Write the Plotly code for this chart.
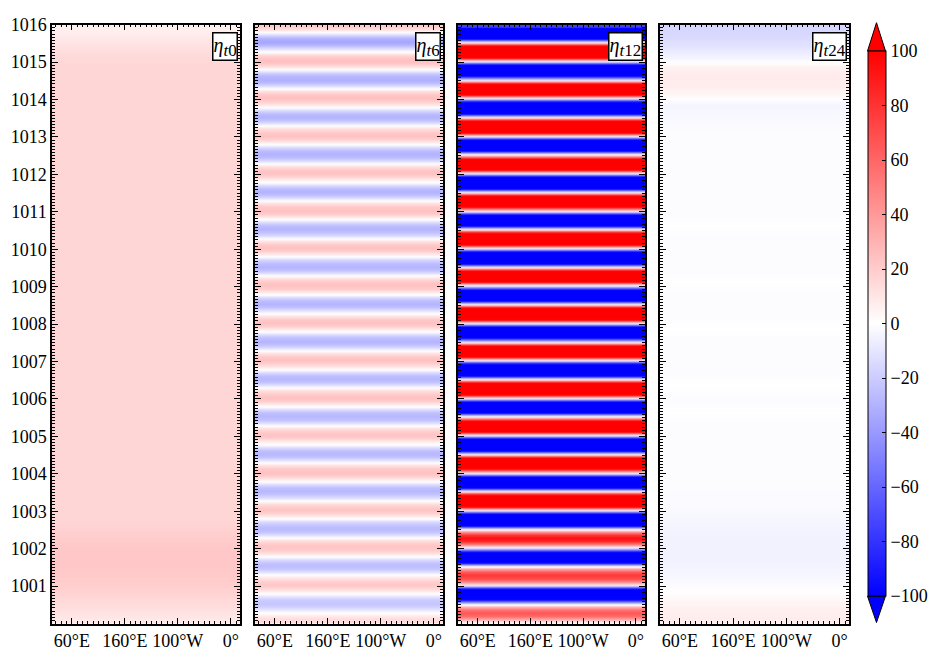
import plotly.graph_objects as go

# ---------------- data ----------------
years = list(range(1000, 1016))                       # one row per year, bottom -> top
month_centres = [(m + 0.5) / 12 for m in range(12)]   # monthly samples (panels t6, t12)
quarter_centres = [(q + 0.5) / 4 for q in range(4)]   # quarterly samples (panels t0, t24)
lon_centres = [111.25, 288.75]                        # field is zonally uniform: two columns 22.5..377.5

x_tickvals = [60, 160, 260, 360]
x_ticktext = ["60°E", "160°E", "100°W", "0°"]
y_tickvals = list(range(1001, 1017))
cbar_ticks = list(range(-100, 101, 20))
panel_subs = ["0", "6", "12", "24"]

eta_t0 = [  # quarterly
    [9, 12, 15, 18],
    [20, 21, 22, 22],
    [21, 19, 17, 16],
    [16, 16, 16, 16],
    [16, 16, 16, 16],
    [16, 16, 16, 16],
    [16, 16, 16, 16],
    [16, 16, 16, 16],
    [16, 16, 16, 16],
    [16, 16, 16, 16],
    [16, 16, 16, 16],
    [16, 16, 16, 16],
    [16, 16, 16, 16],
    [16, 16, 16, 16],
    [16, 16, 16, 16],
    [15, 12, 9, 6],
]

eta_t6 = [  # monthly
    [14, 13, 8, 0, -9, -18, -22, -20, -12, -1, 9, 17],
    [22, 19, 12, 1, -12, -22, -26, -23, -14, -1, 10, 19],
    [23, 20, 13, 1, -13, -23, -27, -24, -15, -1, 10, 19],
    [23, 20, 13, 0, -13, -24, -28, -25, -15, -1, 10, 20],
    [24, 21, 13, 1, -13, -24, -28, -25, -15, -1, 10, 20],
    [23, 20, 13, 1, -13, -24, -28, -25, -15, -1, 10, 20],
    [24, 21, 13, 1, -13, -24, -28, -25, -15, -1, 10, 20],
    [24, 21, 13, 1, -14, -24, -29, -25, -15, -1, 10, 20],
    [24, 21, 13, 1, -14, -25, -29, -26, -16, -1, 10, 20],
    [24, 21, 13, 1, -14, -25, -29, -26, -16, -1, 10, 20],
    [24, 21, 13, 1, -14, -25, -29, -26, -16, -2, 10, 20],
    [24, 21, 13, 1, -14, -25, -30, -26, -16, -2, 10, 20],
    [24, 21, 13, 1, -14, -25, -30, -26, -16, -2, 10, 20],
    [24, 21, 13, 1, -14, -25, -30, -26, -16, -2, 10, 20],
    [25, 22, 14, 1, -14, -26, -31, -28, -17, -2, 11, 21],
    [25, 22, 14, 0, -16, -29, -35, -31, -19, -3, 11, 20],
]

eta_t12 = [  # monthly
    [9, 38, 60, 66, 55, 29, -12, -92, -145, -160, -133, -70],
    [11, 46, 70, 78, 64, 34, -13, -95, -150, -165, -137, -72],
    [12, 58, 86, 94, 78, 41, -13, -97, -153, -168, -140, -74],
    [13, 97, 155, 171, 142, 75, -13, -97, -155, -171, -142, -75],
    [13, 97, 155, 171, 142, 75, -13, -97, -155, -171, -142, -75],
    [13, 98, 156, 172, 143, 75, -13, -97, -155, -171, -142, -75],
    [13, 97, 155, 171, 142, 75, -13, -97, -155, -171, -142, -75],
    [13, 98, 156, 172, 143, 75, -13, -97, -155, -171, -142, -75],
    [13, 97, 155, 171, 142, 75, -13, -97, -155, -171, -142, -75],
    [13, 98, 156, 172, 143, 75, -13, -97, -155, -171, -142, -75],
    [13, 97, 155, 171, 142, 75, -13, -97, -155, -171, -142, -75],
    [13, 98, 156, 172, 143, 75, -13, -97, -155, -171, -142, -75],
    [13, 97, 155, 171, 142, 75, -13, -97, -155, -171, -142, -75],
    [13, 98, 156, 172, 143, 75, -13, -97, -155, -171, -142, -75],
    [13, 97, 155, 171, 142, 75, -13, -97, -155, -171, -142, -75],
    [13, 97, 155, 171, 142, 75, -13, -97, -155, -171, -142, -75],
]

eta_t24 = [  # quarterly
    [7, 6, 3, 0],
    [-2, -4, -5, -5],
    [-5, -5, -4, -3],
    [-2, -2, -1, -1],
    [-1, -1, -1, -1],
    [-1, -1, 0, -1],
    [-1, 0, -1, -1],
    [-1, -1, -1, 0],
    [-1, -1, -1, -1],
    [0, -1, -1, -1],
    [-1, -1, 0, -1],
    [-1, -1, -1, -1],
    [-1, -1, -1, -1],
    [-1, -2, -3, -4],
    [3, 7, 8, 5],
    [-4, -10, -14, -16],
]

# ---------------- figure ----------------
W, H = 932, 651
SERIF = "Liberation Serif"
bwr = [[0.0, "rgb(0,0,255)"], [0.5, "rgb(255,255,255)"], [1.0, "rgb(255,0,0)"]]

def flatten(rows, centres):
    ys, vals = [], []
    for yr, row in zip(years, rows):
        for c, v in zip(centres, row):
            ys.append(yr + c)
            vals.append(v)
    return ys, vals

panels = [(eta_t0, quarter_centres), (eta_t6, month_centres),
          (eta_t12, month_centres), (eta_t24, quarter_centres)]
px_domains = [(52, 240), (255, 443), (458, 645), (660, 849)]
top_px, bot_px = 15, 627

fig = go.Figure()
layout = {}
for i, ((rows, centres), (x0, x1)) in enumerate(zip(panels, px_domains), start=1):
    ys, vals = flatten(rows, centres)
    fig.add_trace(go.Heatmap(
        x=lon_centres, y=ys, z=[[v, v] for v in vals],
        coloraxis="coloraxis", zsmooth="best",
        xaxis=f"x{i}", yaxis=f"y{i}", hoverinfo="skip"))
    sfx = "" if i == 1 else str(i)
    layout[f"xaxis{sfx}"] = dict(
        domain=[x0 / W, x1 / W], range=[22.5, 377.5], anchor=f"y{i}",
        tickmode="array", tickvals=x_tickvals, ticktext=x_ticktext,
        ticks="inside", ticklen=6, tickwidth=1, tickcolor="black",
        minor=dict(ticks="inside", ticklen=3, dtick=10, tick0=0, tickcolor="black"),
        showline=True, linecolor="black", linewidth=1.5, mirror="ticks",
        showgrid=False, zeroline=False,
        tickfont=dict(family=SERIF, size=18, color="black"))
    layout[f"yaxis{sfx}"] = dict(
        domain=[1 - bot_px / H, 1 - top_px / H], range=[1000, 1016], anchor=f"x{i}",
        tickmode="array", tickvals=y_tickvals, showticklabels=(i == 1),
        ticks="inside", ticklen=6, tickwidth=1, tickcolor="black",
        minor=dict(ticks="inside", ticklen=3, dtick=1 / 12, tick0=1000, tickcolor="black"),
        showline=True, linecolor="black", linewidth=1.5, mirror="ticks",
        showgrid=False, zeroline=False,
        tickfont=dict(family=SERIF, size=18, color="black"))

annotations = []
for i, sub in enumerate(panel_subs, start=1):
    sfx = "" if i == 1 else str(i)
    lab = ("<i>η</i><sub><span style='font-size:17px'><i>t</i>" + sub
           + "</span></sub>")
    annotations.append(dict(
        text=lab, xref=f"x{sfx} domain", yref=f"y{sfx} domain",
        x=0.99, y=0.988, xanchor="right", yanchor="top", showarrow=False,
        bordercolor="black", borderwidth=1.5, borderpad=0, bgcolor="white",
        font=dict(family=SERIF, size=20, color="black")))

# colorbar geometry (pixels)
cb_x0, cb_x1, cb_top, cb_bot = 867.5, 885.5, 42, 599
tip_top, tip_bot = 13, 626
def P(px, py):
    return f"{px / W:.5f},{1 - py / H:.5f}"
cx = (cb_x0 + cb_x1) / 2
shapes = [
    dict(type="path", xref="paper", yref="paper",
         path=f"M{P(cb_x0, cb_top)} L{P(cb_x1, cb_top)} L{P(cx, tip_top)} Z",
         fillcolor="rgb(255,0,0)", line=dict(color="black", width=1)),
    dict(type="path", xref="paper", yref="paper",
         path=f"M{P(cb_x0, cb_bot)} L{P(cb_x1, cb_bot)} L{P(cx, tip_bot)} Z",
         fillcolor="rgb(0,0,255)", line=dict(color="black", width=1)),
]

fig.update_layout(
    width=W, height=H, margin=dict(l=0, r=0, t=0, b=0),
    paper_bgcolor="white", plot_bgcolor="white", showlegend=False,
    coloraxis=dict(
        colorscale=bwr, cmin=-100, cmax=100,
        colorbar=dict(
            x=cb_x0 / W, xanchor="left", xpad=0, ypad=0,
            y=1 - (cb_top + cb_bot) / 2 / H, yanchor="middle",
            len=(cb_bot - cb_top) / H, lenmode="fraction",
            thickness=cb_x1 - cb_x0, thicknessmode="pixels",
            outlinewidth=1, outlinecolor="black",
            tickmode="array", tickvals=cbar_ticks,
            ticks="inside", ticklen=4, tickcolor="black",
            tickfont=dict(family=SERIF, size=18, color="black"))),
    annotations=annotations, shapes=shapes,
    **layout)

fig.write_html("out.html")
